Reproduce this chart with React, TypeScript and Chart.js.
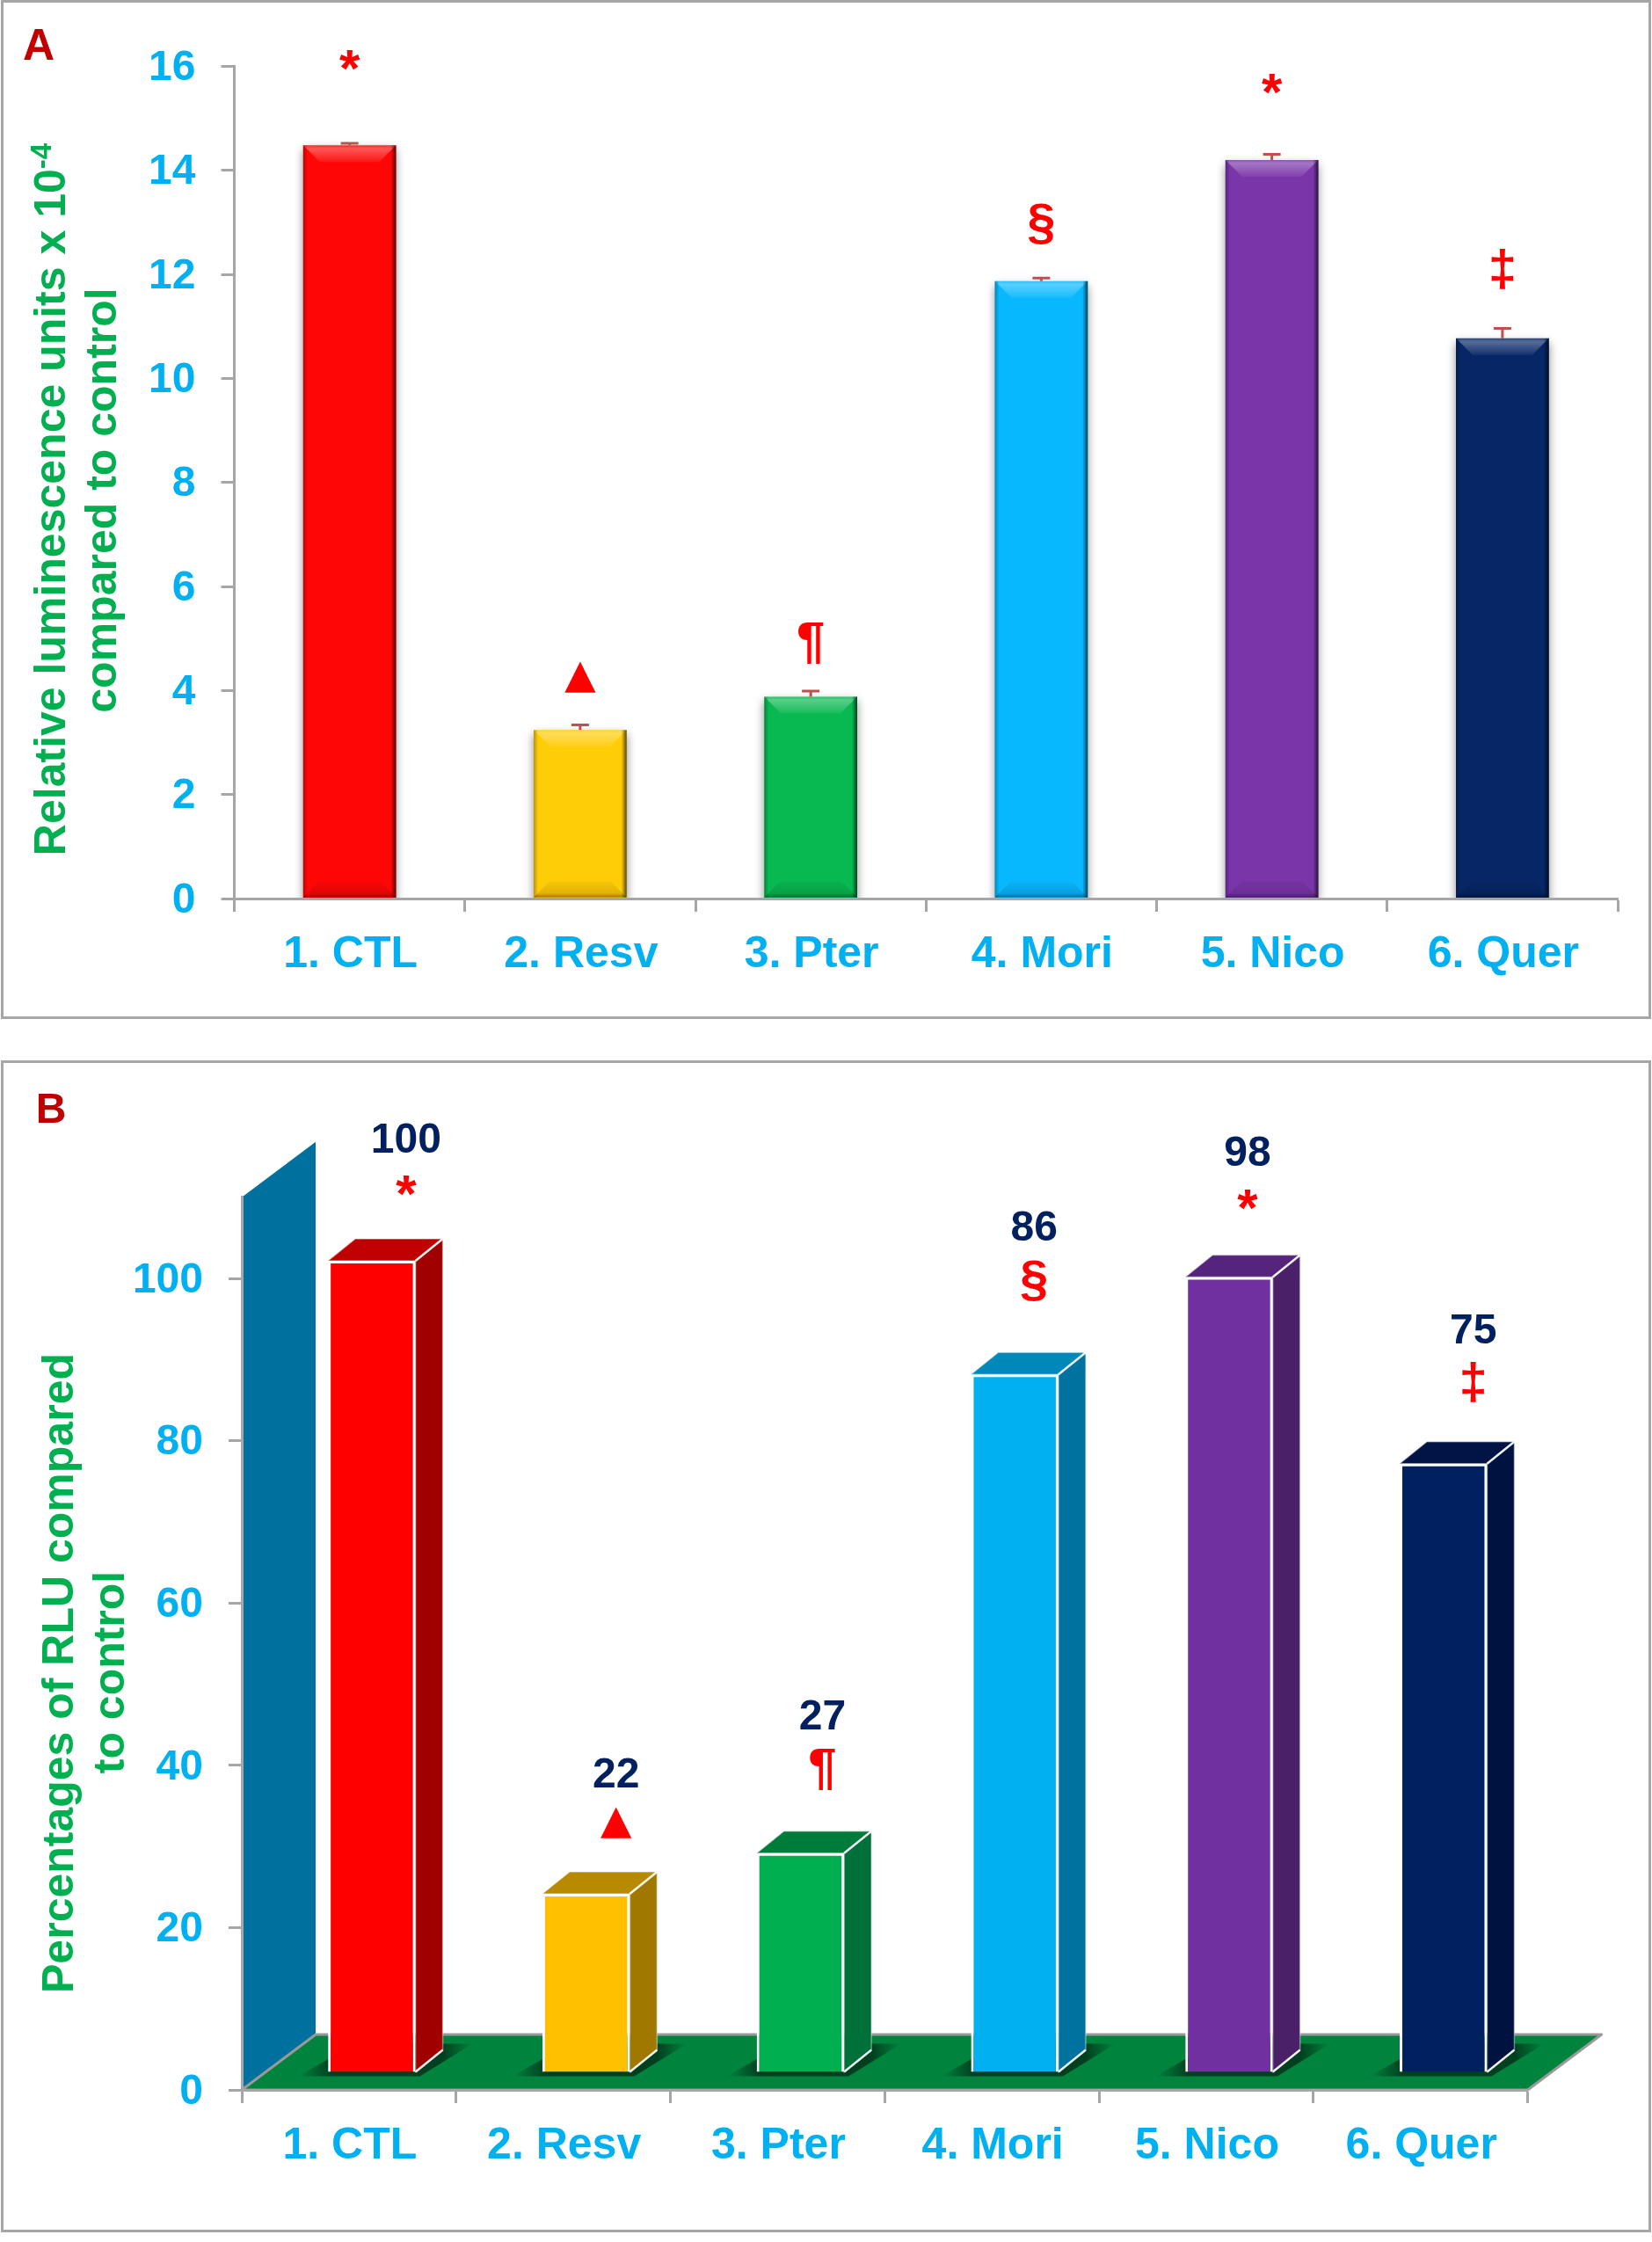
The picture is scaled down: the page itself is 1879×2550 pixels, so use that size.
import React, { useEffect, useRef } from 'react';
import Chart from 'chart.js/auto';

const categories = ['1. CTL', '2. Resv', '3. Pter', '4. Mori', '5. Nico', '6. Quer'];
const marks = ['*', '▲', '¶', '§', '*', '‡'];

// panel A
const rluValues = [14.48, 3.24, 3.88, 11.87, 14.2, 10.77];
const rluErrors = [0.04, 0.1, 0.11, 0.06, 0.11, 0.19];
const rluColors = ['#ff0606', '#ffcc08', '#08b850', '#08b8ff', '#7a35a8', '#062666'];

// panel B
const percentValues = [100, 22, 27, 86, 98, 75];
const percentColors = ['#ff0000', '#ffc000', '#00b050', '#00b0f0', '#7030a0', '#002060'];
const percentTops = ['#c00000', '#b88a00', '#007c3a', '#0088bb', '#55247c', '#001545'];
const percentSides = ['#a00000', '#a07800', '#00703a', '#0072a0', '#4a2068', '#001340'];

// hand placed annotation gaps above the bars, px
const markGapA = [97, 60, 60, 65, 86, 79];
const valueGapB = [140, 138, 158, 169, 143, 153];
const markGapB = [86, 81, 95, 107, 88, 93];
const labelShiftB = [39, 34, 25, 22, 21, 34];

const BLUE = '#00b0f0';
const GREEN = '#00b050';
const GREY = '#a6a6a6';
const FONT = '"Liberation Sans", Arial, sans-serif';
const WIDTH = 1879;
const TOP_B = 1205;

function centerText(ctx: any, text: string, x: number, y: number, font: string, color: string) {
  ctx.save();
  ctx.font = font;
  ctx.fillStyle = color;
  ctx.textAlign = 'center';
  ctx.textBaseline = 'alphabetic';
  const m = ctx.measureText(text);
  ctx.fillText(text, x, y + (m.actualBoundingBoxAscent - m.actualBoundingBoxDescent) / 2);
  ctx.restore();
}

function sideText(ctx: any, text: string, baseX: number, midY: number, sup = '') {
  ctx.save();
  ctx.translate(baseX, midY);
  ctx.rotate(-Math.PI / 2);
  ctx.fillStyle = GREEN;
  ctx.textAlign = 'left';
  ctx.textBaseline = 'alphabetic';
  ctx.font = `bold 33px ${FONT}`;
  const supWidth = sup ? ctx.measureText(sup).width : 0;
  ctx.font = `bold 50px ${FONT}`;
  const w = ctx.measureText(text).width;
  const start = -(w + supWidth) / 2;
  ctx.fillText(text, start, 0);
  if (sup) {
    ctx.font = `bold 33px ${FONT}`;
    ctx.fillText(sup, start + w, -16);
  }
  ctx.restore();
}

function markFont(mark: string) {
  if (mark === '*') return `bold 60px ${FONT}`;
  if (mark === '▲') return `bold 46px "DejaVu Sans", ${FONT}`;
  return `bold 58px ${FONT}`;
}

function axisOptions(yMax: number, step: number, yWidth: number, xHeight: number) {
  return {
    x: {
      afterFit: (s: any) => { s.height = xHeight; },
      grid: { offset: true, drawOnChartArea: false, tickLength: 15, tickColor: GREY, tickWidth: 3 },
      border: { color: GREY, width: 3, z: 1 },
      ticks: { color: BLUE, font: { family: FONT, size: 50, weight: 'bold' }, padding: 19, maxRotation: 0, autoSkip: false, labelOffset: 1 },
    },
    y: {
      min: 0,
      max: yMax,
      afterFit: (s: any) => { s.width = yWidth; },
      grid: { drawOnChartArea: false, tickLength: 15, tickColor: GREY, tickWidth: 3 },
      border: { color: GREY, width: 3, z: 1 },
      ticks: { stepSize: step, includeBounds: false, color: BLUE, font: { family: FONT, size: 48, weight: 'bold' }, padding: 29, labelOffset: 2.5 },
    },
  };
}

// bevel, shadow, error bars and marks of panel A
const panelAPlugin = {
  id: 'panelA',
  beforeDatasetsDraw(chart: any) {
    chart.ctx.save();
    chart.ctx.shadowColor = 'rgba(0,0,0,0.45)';
    chart.ctx.shadowBlur = 10;
    chart.ctx.shadowOffsetY = 5;
  },
  afterDatasetsDraw(chart: any) {
    const { ctx } = chart;
    ctx.restore();
    const yScale = chart.scales.y;
    chart.getDatasetMeta(0).data.forEach((bar: any, i: number) => {
      const left = bar.x - bar.width / 2;
      const right = bar.x + bar.width / 2;
      const top = bar.y;
      const bottom = bar.base - 1;

      ctx.save();
      let g = ctx.createLinearGradient(0, top, 0, top + 19);
      g.addColorStop(0, 'rgba(255,255,255,0.15)');
      g.addColorStop(0.2, 'rgba(255,255,255,0.32)');
      g.addColorStop(1, 'rgba(255,255,255,0.06)');
      ctx.fillStyle = g;
      ctx.beginPath();
      ctx.moveTo(left, top);
      ctx.lineTo(right, top);
      ctx.lineTo(right - 19, top + 19);
      ctx.lineTo(left + 19, top + 19);
      ctx.closePath();
      ctx.fill();

      g = ctx.createLinearGradient(0, bottom - 18, 0, bottom);
      g.addColorStop(0, 'rgba(0,0,0,0.03)');
      g.addColorStop(0.75, 'rgba(0,0,0,0.12)');
      g.addColorStop(1, 'rgba(0,0,0,0.4)');
      ctx.fillStyle = g;
      ctx.beginPath();
      ctx.moveTo(left, bottom);
      ctx.lineTo(right, bottom);
      ctx.lineTo(right - 18, bottom - 18);
      ctx.lineTo(left + 18, bottom - 18);
      ctx.closePath();
      ctx.fill();

      g = ctx.createLinearGradient(left, 0, left + 5, 0);
      g.addColorStop(0, 'rgba(0,0,0,0.28)');
      g.addColorStop(1, 'rgba(0,0,0,0)');
      ctx.fillStyle = g;
      ctx.fillRect(left, top, 5, bottom - top);
      g = ctx.createLinearGradient(right - 6, 0, right, 0);
      g.addColorStop(0, 'rgba(0,0,0,0)');
      g.addColorStop(1, 'rgba(0,0,0,0.65)');
      ctx.fillStyle = g;
      ctx.fillRect(right - 6, top, 6, bottom - top);
      ctx.restore();

      // error bar
      const errTop = yScale.getPixelForValue(rluValues[i] + rluErrors[i]);
      ctx.save();
      ctx.strokeStyle = '#c0504d';
      ctx.lineWidth = 3;
      ctx.beginPath();
      ctx.moveTo(bar.x, top);
      ctx.lineTo(bar.x, errTop);
      ctx.moveTo(bar.x - 10, errTop);
      ctx.lineTo(bar.x + 10, errTop);
      ctx.stroke();
      ctx.restore();

      centerText(ctx, marks[i], bar.x, top - markGapA[i], markFont(marks[i]), '#ff0000');
    });

    centerText(ctx, 'A', 44, 50, `bold 50px ${FONT}`, '#c00000');
    sideText(ctx, 'Relative luminescence units x 10', 74, 568, '-4');
    sideText(ctx, 'compared to control', 132, 569);
  },
};

// pseudo 3D wall, floor and bar sides of panel B
const WALL_DX = 84;
const WALL_DY = 63;
const BAR_DX = 26;
const BAR_DY = 20;
const DEPTH_X = 31;
const DEPTH_Y = 25;

function poly(ctx: any, pts: number[][]) {
  ctx.beginPath();
  pts.forEach(([x, y], i) => (i ? ctx.lineTo(x, y) : ctx.moveTo(x, y)));
  ctx.closePath();
}

const panelBPlugin = {
  id: 'panelB',
  beforeDatasetsDraw(chart: any) {
    const { ctx, chartArea } = chart;
    const { left, right, top, bottom } = chartArea;

    ctx.save();
    ctx.fillStyle = '#00709e';
    poly(ctx, [[left, bottom], [left, top], [left + WALL_DX, top - WALL_DY], [left + WALL_DX, bottom - WALL_DY]]);
    ctx.fill();

    const floor = [[left, bottom], [left + WALL_DX, bottom - WALL_DY], [right + WALL_DX, bottom - WALL_DY], [right, bottom]];
    ctx.fillStyle = '#00843d';
    poly(ctx, floor);
    ctx.fill();
    ctx.strokeStyle = '#999999';
    ctx.lineWidth = 3;
    ctx.lineJoin = 'round';
    ctx.stroke();

    // soft shadow of every bar on the floor, fading out sideways
    chart.getDatasetMeta(0).data.forEach((bar: any) => {
      const l = bar.x + BAR_DX - bar.width / 2;
      const r = bar.x + BAR_DX + bar.width / 2;
      const b = bar.base - BAR_DY;
      const x0 = l - 34;
      const x1 = r + DEPTH_X + 34;
      const g = ctx.createLinearGradient(x0, 0, x1, 0);
      g.addColorStop(0, 'rgba(0,60,30,0)');
      g.addColorStop((l + 4 - x0) / (x1 - x0), 'rgba(0,60,30,0.95)');
      g.addColorStop((r + DEPTH_X - x0) / (x1 - x0), 'rgba(0,60,30,0.95)');
      g.addColorStop(1, 'rgba(0,60,30,0)');
      ctx.fillStyle = g;
      poly(ctx, [[x0, b + 5], [r + 5, b + 5], [x1, b - DEPTH_Y - 7], [l + DEPTH_X, b - DEPTH_Y - 7]]);
      ctx.fill();
    });
    ctx.restore();

    // the library draws the front faces, moved back onto the floor
    ctx.save();
    ctx.translate(BAR_DX, -BAR_DY);
  },
  afterDatasetsDraw(chart: any) {
    const { ctx } = chart;
    ctx.restore();
    chart.getDatasetMeta(0).data.forEach((bar: any, i: number) => {
      const cx = bar.x + BAR_DX;
      const l = cx - bar.width / 2;
      const r = cx + bar.width / 2;
      const t = bar.y - BAR_DY;
      const b = bar.base - BAR_DY;

      ctx.save();
      ctx.lineWidth = 1.5;
      ctx.strokeStyle = 'rgba(255,255,255,0.4)';
      ctx.fillStyle = percentTops[i];
      poly(ctx, [[l, t], [l + DEPTH_X, t - DEPTH_Y], [r + DEPTH_X, t - DEPTH_Y], [r, t]]);
      ctx.fill();
      ctx.stroke();
      ctx.fillStyle = percentSides[i];
      poly(ctx, [[r, t], [r + DEPTH_X, t - DEPTH_Y], [r + DEPTH_X, b - DEPTH_Y], [r, b]]);
      ctx.fill();
      ctx.stroke();
      // bright edges where the faces meet
      ctx.lineWidth = 2.5;
      ctx.strokeStyle = 'rgba(255,255,255,0.9)';
      ctx.beginPath();
      ctx.moveTo(r, t);
      ctx.lineTo(r + DEPTH_X, t - DEPTH_Y);
      ctx.moveTo(r, b);
      ctx.lineTo(r + DEPTH_X, b - DEPTH_Y);
      ctx.stroke();
      ctx.restore();

      const x = cx + labelShiftB[i];
      centerText(ctx, String(percentValues[i]), x, t - valueGapB[i], `bold 48px ${FONT}`, '#002060');
      centerText(ctx, marks[i], x, t - markGapB[i], markFont(marks[i]), '#ff0000');
    });

    centerText(ctx, 'B', 58, 1260 - TOP_B, `bold 48px ${FONT}`, '#c00000');
    sideText(ctx, 'Percentages of RLU compared', 83, 1903 - TOP_B);
    sideText(ctx, 'to control', 141, 1902 - TOP_B);
  },
};

export default function App() {
  const refA = useRef<HTMLCanvasElement | null>(null);
  const refB = useRef<HTMLCanvasElement | null>(null);

  useEffect(() => {
    if (!refA.current || !refB.current) return;

    const chartA = new Chart(refA.current, {
      type: 'bar',
      data: {
        labels: categories,
        datasets: [{
          data: rluValues,
          backgroundColor: rluColors,
          categoryPercentage: 1,
          barPercentage: 0.403,
        }],
      },
      options: {
        responsive: false,
        animation: false,
        devicePixelRatio: 1,
        layout: { padding: { top: 75.4, right: WIDTH - 1840, left: 0, bottom: 0 } },
        plugins: { legend: { display: false }, tooltip: { enabled: false } },
        scales: axisOptions(16, 2, 266.5, 1165 - 1022),
      } as any,
      plugins: [panelAPlugin],
    });

    const chartB = new Chart(refB.current, {
      type: 'bar',
      data: {
        labels: categories,
        datasets: [{
          data: percentValues,
          backgroundColor: percentColors,
          borderColor: '#ffffff',
          borderWidth: 3,
          categoryPercentage: 1,
          barPercentage: 0.408,
        }],
      },
      options: {
        responsive: false,
        animation: false,
        devicePixelRatio: 1,
        layout: { padding: { top: 1361.7 - TOP_B, right: WIDTH - 1737.6, left: 0, bottom: 0 } },
        plugins: { legend: { display: false }, tooltip: { enabled: false } },
        scales: axisOptions(110, 20, 275, 2535 - 2377),
      } as any,
      plugins: [panelBPlugin],
    });

    return () => {
      chartA.destroy();
      chartB.destroy();
    };
  }, []);

  const frame = (top: number, height: number): React.CSSProperties => ({
    position: 'absolute',
    left: 1,
    top,
    width: WIDTH - 2,
    height,
    boxSizing: 'border-box',
    border: `3px solid ${GREY}`,
    background: '#fff',
  });

  return (
    <div style={{ position: 'absolute', left: 0, top: 0, width: WIDTH, height: 2550, background: '#fff' }}>
      <div style={frame(0, 1159)} />
      <div style={frame(1206, 1333)} />
      <canvas ref={refA} width={WIDTH} height={1165} style={{ position: 'absolute', left: 0, top: 0, width: WIDTH, height: 1165 }} />
      <canvas ref={refB} width={WIDTH} height={2535 - TOP_B} style={{ position: 'absolute', left: 0, top: TOP_B, width: WIDTH, height: 2535 - TOP_B }} />
    </div>
  );
}
